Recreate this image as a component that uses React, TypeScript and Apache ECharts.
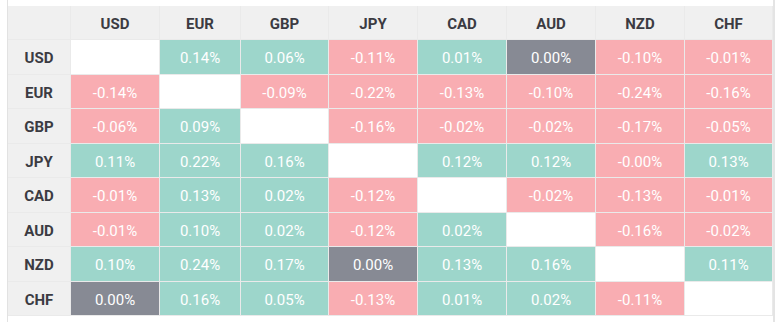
import React, { useEffect, useRef } from "react";
import * as echarts from "echarts";

// Currencies (rows = base, columns = quote)
const currencies = ["USD", "EUR", "GBP", "JPY", "CAD", "AUD", "NZD", "CHF"];

// Percent changes, null on the diagonal
const usdRow = [null, 0.14, 0.06, -0.11, 0.01, 0.0, -0.1, -0.01];
const eurRow = [-0.14, null, -0.09, -0.22, -0.13, -0.1, -0.24, -0.16];
const gbpRow = [-0.06, 0.09, null, -0.16, -0.02, -0.02, -0.17, -0.05];
const jpyRow = [0.11, 0.22, 0.16, null, 0.12, 0.12, -0.001, 0.13];
const cadRow = [-0.01, 0.13, 0.02, -0.12, null, -0.02, -0.13, -0.01];
const audRow = [-0.01, 0.1, 0.02, -0.12, 0.02, null, -0.16, -0.02];
const nzdRow = [0.1, 0.24, 0.17, 0.0, 0.13, 0.16, null, 0.11];
const chfRow = [0.0, 0.16, 0.05, -0.13, 0.01, 0.02, -0.11, null];

const rows = [usdRow, eurRow, gbpRow, jpyRow, cadRow, audRow, nzdRow, chfRow];

// Layout: column widths in px (header column first)
const colWidths = [63, 89, 81, 88, 89, 89, 89, 89, 88];

const GREEN = "#9dd6cb";
const PINK = "#f9adb2";
const GRAY = "#878a94";
const HEAD_BG = "#f0f0f0";
const FONT = "Roboto, 'Noto Sans', sans-serif";

export default function App() {
  const ref = useRef<HTMLDivElement>(null);

  useEffect(() => {
    document.body.style.margin = "0";
    if (!ref.current) return;
    const chart = echarts.init(ref.current, null, { renderer: "svg" });

    const edges: number[] = [0];
    colWidths.forEach((w) => edges.push(edges[edges.length - 1] + w));
    const totalW = edges[edges.length - 1];

    const cells: { c: number; r: number; v: number | null }[] = [];
    rows.forEach((row, r) => row.forEach((v, c) => cells.push({ c, r, v })));

    const heads: { c: number; r: number; label: string }[] = [{ c: -1, r: -1, label: "" }];
    currencies.forEach((name, i) => heads.push({ c: i, r: -1, label: name }));
    currencies.forEach((name, i) => heads.push({ c: -1, r: i, label: name }));

    const cellRect = (api: any, c: number, r: number) => {
      const p0 = api.coord([edges[c + 1], r + 1]);
      const p1 = api.coord([edges[c + 2], r + 2]);
      const x0 = Math.round(p0[0]);
      const y0 = Math.round(p0[1]);
      const x1 = Math.round(p1[0]);
      const y1 = Math.round(p1[1]);
      return { x: x0, y: y0, width: x1 - x0 - 1, height: y1 - y0 - 1 };
    };

    chart.setOption({
      animation: false,
      grid: {
        left: 8,
        top: 6,
        width: totalW,
        height: 310,
        show: true,
        backgroundColor: "#eaeaea",
        borderWidth: 0,
      },
      xAxis: { type: "value", min: 0, max: totalW, show: false },
      yAxis: { type: "value", min: 0, max: 9, inverse: true, show: false },
      graphic: [
        { type: "line", shape: { x1: 7.5, y1: 0, x2: 7.5, y2: 322 }, style: { stroke: "#e2e2e2", lineWidth: 1 } },
        { type: "rect", shape: { x: 773, y: 0, width: 2, height: 322 }, style: { fill: "#e4e4e4" } },
      ],
      series: [
        {
          type: "custom",
          coordinateSystem: "cartesian2d",
          data: heads.map((h) => [h.c, h.r]),
          renderItem: (params: any, api: any) => {
            const h = heads[params.dataIndex];
            const rect = cellRect(api, h.c, h.r);
            return {
              type: "group",
              children: [
                { type: "rect", shape: rect, style: { fill: HEAD_BG } },
                {
                  type: "text",
                  x: rect.x + rect.width / 2,
                  y: rect.y + rect.height / 2 + 1,
                  style: {
                    text: h.label,
                    align: "center",
                    verticalAlign: "middle",
                    fill: "#3b3b42",
                    fontSize: 15,
                    fontWeight: "bold",
                    fontFamily: FONT,
                  },
                },
              ],
            };
          },
        },
        {
          type: "custom",
          coordinateSystem: "cartesian2d",
          data: cells.map((d) => [d.c, d.r]),
          renderItem: (params: any, api: any) => {
            const d = cells[params.dataIndex];
            const rect = cellRect(api, d.c, d.r);
            let fill = "#ffffff";
            let text = "";
            if (d.v !== null) {
              fill = d.v > 0 ? GREEN : d.v < 0 ? PINK : GRAY;
              text = d.v.toFixed(2) + "%";
            }
            return {
              type: "group",
              children: [
                { type: "rect", shape: rect, style: { fill } },
                {
                  type: "text",
                  x: rect.x + rect.width / 2,
                  y: rect.y + rect.height / 2 + 1,
                  style: {
                    text,
                    align: "center",
                    verticalAlign: "middle",
                    fill: "#ffffff",
                    fontSize: 15,
                    fontFamily: FONT,
                  },
                },
              ],
            };
          },
        },
      ],
    });

    return () => chart.dispose();
  }, []);

  return <div ref={ref} style={{ width: 780, height: 322 }} />;
}
